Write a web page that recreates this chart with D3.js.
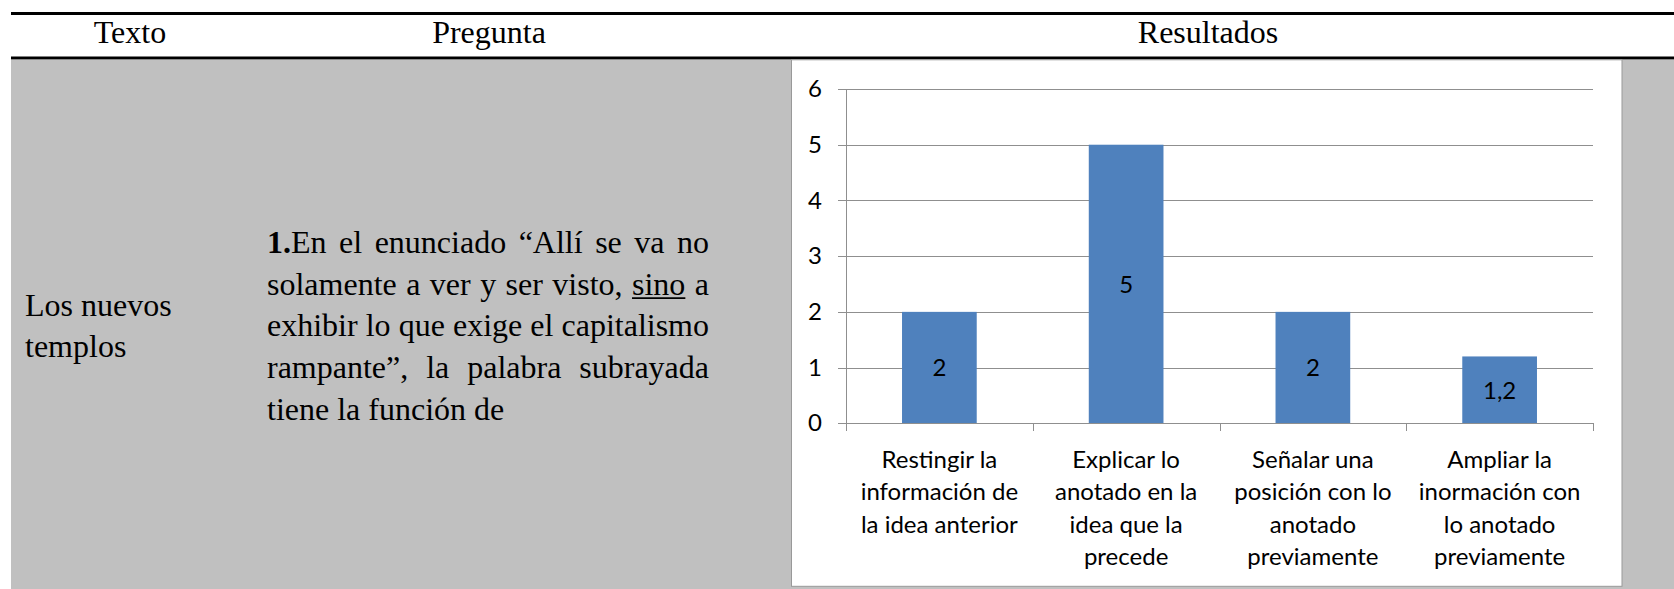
<!DOCTYPE html>
<html><head><meta charset="utf-8">
<script src="https://cdn.jsdelivr.net/npm/d3@7"></script>
<style>body{margin:0;background:#fff}svg{display:block}</style>
</head><body><svg id="c" width="1674" height="589"></svg>
<script>
// ---- data ----
const headers = ["Texto", "Pregunta", "Resultados"];
const textoLines = ["Los nuevos", "templos"];
const questionLines = [
  ["1.En", "el", "enunciado", "“Allí", "se", "va", "no"],
  ["solamente", "a", "ver", "y", "ser", "visto,", "sino", "a"],
  ["exhibir", "lo", "que", "exige", "el", "capitalismo"],
  ["rampante”,", "la", "palabra", "subrayada"],
  ["tiene", "la", "función", "de"]
];
const boldPrefix = "1.";
const underlinedWord = "sino";
const categories = [
  ["Restingir la", "información de", "la idea anterior"],
  ["Explicar lo", "anotado en la", "idea que la", "precede"],
  ["Señalar una", "posición con lo", "anotado", "previamente"],
  ["Ampliar la", "inormación con", "lo anotado", "previamente"]
];
const values = [2, 5, 2, 1.2];
const yTicks = [0, 1, 2, 3, 4, 5, 6];

// ---- layout ----
const svg = d3.select("#c");
const serif = "'Liberation Serif','Times New Roman',serif";
const sans = "Lato,'Open Sans',sans-serif";
const fmt = d3.formatLocale({decimal: ",", thousands: ".", grouping: [3], currency: ["", "€"]}).format("~g");

// table background + rules
svg.append("rect").attr("x", 11).attr("y", 59).attr("width", 1674 - 11).attr("height", 589 - 59).attr("fill", "#c0c0c0");
svg.append("rect").attr("x", 11).attr("y", 12).attr("width", 1674 - 11).attr("height", 3).attr("fill", "#000");
svg.append("rect").attr("x", 11).attr("y", 56.5).attr("width", 1674 - 11).attr("height", 2.8).attr("fill", "#000");

const headerX = [130, 489, 1208];
svg.selectAll("text.hdr").data(headers).join("text").attr("class", "hdr")
  .attr("x", (d, i) => headerX[i]).attr("y", 43).attr("text-anchor", "middle")
  .attr("font-family", serif).attr("font-size", 32).attr("fill", "#000").text(d => d);

// column 1 text
const lh = 41.7, b1 = 253;
svg.selectAll("text.texto").data(textoLines).join("text").attr("class", "texto")
  .attr("x", 25).attr("y", (d, i) => b1 + 62.6 + i * lh)
  .attr("font-family", serif).attr("font-size", 32).attr("fill", "#000").text(d => d);

// column 2 justified paragraph
const pLeft = 267, pRight = 709;
questionLines.forEach((words, li) => {
  const y = b1 + li * lh;
  const g = svg.append("g");
  const nodes = words.map(w => {
    const t = g.append("text").attr("y", y).attr("font-family", serif).attr("font-size", 32).attr("fill", "#000");
    if (li === 0 && w.startsWith(boldPrefix)) {
      t.append("tspan").attr("font-weight", "bold").text(boldPrefix);
      t.append("tspan").text(w.slice(boldPrefix.length));
    } else {
      t.text(w);
    }
    return {t, w, len: t.node().getComputedTextLength()};
  });
  const sum = d3.sum(nodes, n => n.len);
  const last = li === questionLines.length - 1;
  const gap = last ? 8 : (pRight - pLeft - sum) / (nodes.length - 1);
  let x = pLeft;
  nodes.forEach(n => {
    n.t.attr("x", x);
    if (n.w === underlinedWord) {
      g.append("line").attr("x1", x).attr("x2", x + n.len).attr("y1", y + 3.5).attr("y2", y + 3.5)
        .attr("stroke", "#000").attr("stroke-width", 1.8);
    }
    x += n.len + gap;
  });
});

// ---- chart ----
svg.append("rect").attr("x", 791.5).attr("y", 59.8).attr("width", 830.5).attr("height", 526.5)
  .attr("fill", "#fff").attr("stroke", "#999").attr("stroke-width", 1);

const x0 = 846, x1 = 1593, yTop = 89, yBot = 423.3;
const x = d3.scaleBand().domain(d3.range(categories.length)).range([x0, x1]).paddingInner(0.6).paddingOuter(0.3);
const xb = d3.scaleLinear().domain([0, categories.length]).range([x0, x1]);
const y = d3.scaleLinear().domain([0, 6]).range([yBot, yTop]);
const axisColor = "#8f8f8f";

// gridlines
const grid = svg.append("g").attr("transform", `translate(${x0},0)`)
  .call(d3.axisLeft(y).tickValues(yTicks).tickSize(-(x1 - x0)).tickFormat(""));
grid.select(".domain").remove();
grid.selectAll("line").attr("stroke", axisColor).attr("shape-rendering", "crispEdges");

// bars
svg.selectAll("rect.bar").data(values).join("rect").attr("class", "bar")
  .attr("x", (d, i) => x(i)).attr("width", x.bandwidth())
  .attr("y", d => y(d)).attr("height", d => y(0) - y(d)).attr("fill", "#4f81bd");

// y axis
const ya = svg.append("g").attr("transform", `translate(${x0},0)`)
  .call(d3.axisLeft(y).tickValues(yTicks).tickSize(8).tickSizeOuter(0).tickPadding(16).tickFormat(d3.format("d")));
ya.selectAll("line,path").attr("stroke", axisColor).attr("shape-rendering", "crispEdges");
ya.selectAll("text").attr("font-family", sans).attr("font-size", 24).attr("fill", "#000");

// x axis (category boundaries)
const xa = svg.append("g").attr("transform", `translate(0,${yBot})`)
  .call(d3.axisBottom(xb).tickValues(d3.range(categories.length + 1)).tickSize(8).tickSizeOuter(0).tickFormat(""));
xa.selectAll("line,path").attr("stroke", axisColor).attr("shape-rendering", "crispEdges");
xa.select(".domain").attr("d", `M${x0 - 8},0.5H${x1}`);

// data labels
svg.selectAll("text.lbl").data(values).join("text").attr("class", "lbl")
  .attr("x", (d, i) => x(i) + x.bandwidth() / 2).attr("y", d => (y(d) + y(0)) / 2)
  .attr("dy", "0.36em").attr("text-anchor", "middle")
  .attr("font-family", sans).attr("font-size", 24).attr("fill", "#000").text(d => fmt(d));

// category labels
const cat = svg.selectAll("text.cat").data(categories).join("text").attr("class", "cat")
  .attr("text-anchor", "middle").attr("font-family", sans).attr("font-size", 24).attr("fill", "#000");
cat.selectAll("tspan").data((d, i) => d.map(s => ({s, i}))).join("tspan")
  .attr("x", d => x(d.i) + x.bandwidth() / 2).attr("y", (d, j) => 468 + j * 32.3).text(d => d.s);
</script></body></html>
